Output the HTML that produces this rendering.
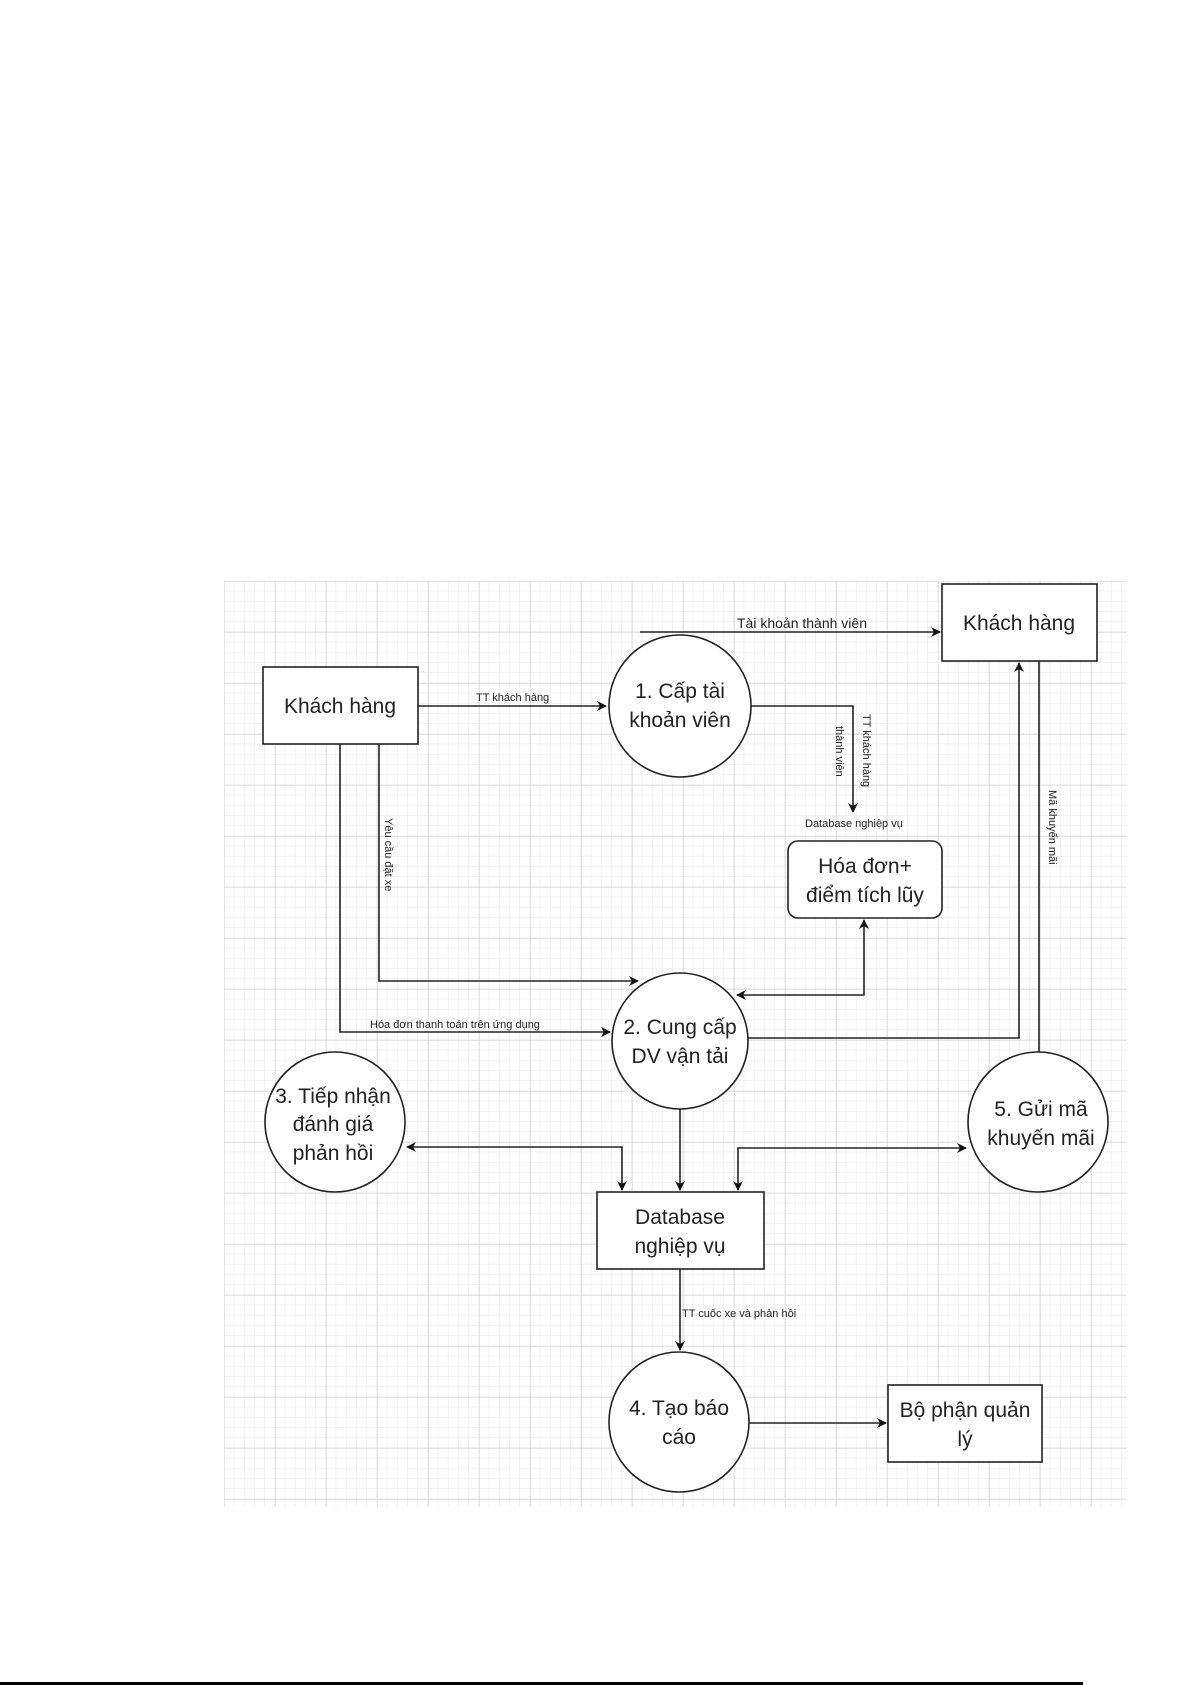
<!DOCTYPE html>
<html><head><meta charset="utf-8"><style>
html,body{margin:0;padding:0;background:#fff;}
svg{display:block;}
text{font-family:"Liberation Sans",sans-serif;fill:#222;}
</style></head><body>
<svg width="1192" height="1685" viewBox="0 0 1192 1685" xmlns="http://www.w3.org/2000/svg">
<defs>
<pattern id="minor" x="224" y="581" width="10.2" height="10.2" patternUnits="userSpaceOnUse">
<path d="M10.2 0V10.2M0 10.2H10.2" fill="none" stroke="#e6e6e6" stroke-width="1"/>
</pattern>
<pattern id="major" x="224" y="581" width="51" height="51" patternUnits="userSpaceOnUse">
<path d="M0 0V51M0 0H51" fill="none" stroke="#cccccc" stroke-width="1"/>
</pattern>
<marker id="a" markerWidth="10" markerHeight="10" refX="9" refY="5" orient="auto-start-reverse" markerUnits="userSpaceOnUse">
<path d="M0 0L10 5L0 10L3 5Z" fill="#111"/>
</marker>
</defs>
<rect width="1192" height="1685" fill="#fff"/>
<rect x="224" y="581" width="903" height="926" fill="url(#minor)"/>
<rect x="224" y="581" width="903" height="926" fill="url(#major)"/>

<g fill="none" stroke="#222" stroke-width="1.6">
<path d="M418 706H606" marker-end="url(#a)"/>
<path d="M640 632H940" marker-end="url(#a)"/>
<path d="M751 706H853V812" marker-end="url(#a)"/>
<path d="M379 744V981H638" marker-end="url(#a)"/>
<path d="M340 744V1032H610" marker-end="url(#a)"/>
<path d="M864 920V995H737" marker-start="url(#a)" marker-end="url(#a)"/>
<path d="M748 1038H1019V663" marker-end="url(#a)"/>
<path d="M1039 661V1052"/>
<path d="M680 1109V1190" marker-end="url(#a)"/>
<path d="M407 1147H622V1190" marker-start="url(#a)" marker-end="url(#a)"/>
<path d="M966 1148H738V1190" marker-start="url(#a)" marker-end="url(#a)"/>
<path d="M680 1269V1350" marker-end="url(#a)"/>
<path d="M749 1423H886" marker-end="url(#a)"/>
</g>

<g fill="#fff" stroke="#222" stroke-width="1.6">
<rect x="263" y="667" width="155" height="77"/>
<rect x="942" y="584" width="155" height="77"/>
<rect x="788" y="841" width="154" height="77" rx="10"/>
<rect x="597" y="1192" width="167" height="77"/>
<rect x="888" y="1385" width="154" height="77"/>
<circle cx="680" cy="706" r="71"/>
<circle cx="680" cy="1041" r="68"/>
<circle cx="335" cy="1122" r="70"/>
<circle cx="1038" cy="1122" r="70"/>
<circle cx="679" cy="1422" r="70"/>
</g>

<g font-size="21" text-anchor="middle">
<text x="340" y="713">Khách hàng</text>
<text x="1019" y="630">Khách hàng</text>
<text x="680" y="698">1. Cấp tài</text>
<text x="680" y="727">khoản viên</text>
<text x="865" y="873">Hóa đơn+</text>
<text x="865" y="902">điểm tích lũy</text>
<text x="680" y="1034">2. Cung cấp</text>
<text x="680" y="1063">DV vận tải</text>
<text x="333" y="1103">3. Tiếp nhận</text>
<text x="333" y="1131">đánh giá</text>
<text x="333" y="1160">phản hồi</text>
<text x="1041" y="1116">5. Gửi mã</text>
<text x="1041" y="1145">khuyến mãi</text>
<text x="680" y="1224">Database</text>
<text x="680" y="1253">nghiệp vụ</text>
<text x="679" y="1415">4. Tạo báo</text>
<text x="679" y="1444">cáo</text>
<text x="965" y="1417">Bộ phận quản</text>
<text x="965" y="1446">lý</text>
</g>

<g font-size="11">
<text x="476" y="701">TT khách hàng</text>
<text x="737" y="628" font-size="14">Tài khoản thành viên</text>
<text x="805" y="827">Database nghiệp vụ</text>
<text x="370" y="1028">Hóa đơn thanh toán trên ứng dụng</text>
<text x="682" y="1317">TT cuốc xe và phản hồi</text>
<text transform="translate(385 818) rotate(90)">Yêu cầu đặt xe</text>
<text transform="translate(863 714) rotate(90)">TT khách hàng</text>
<text transform="translate(836 726) rotate(90)">thành viên</text>
<text transform="translate(1049 790) rotate(90)">Mã khuyến mãi</text>
</g>

<rect x="0" y="1682" width="1083" height="3" fill="#000"/>
</svg>
</body></html>
